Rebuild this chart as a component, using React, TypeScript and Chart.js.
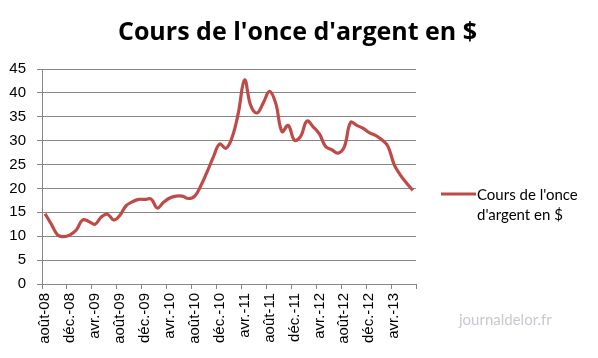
import React, { useEffect, useRef } from "react";
import { Chart, registerables } from "chart.js";

Chart.register(...registerables);

const TITLE = "Cours de l'once d'argent en $";
const SERIES_LINES = ["Cours de l'once", "d'argent en $"];
const WATERMARK = "journaldelor.fr";

const MONTHS = [
  "août-08", "sept.-08", "oct.-08", "nov.-08", "déc.-08",
  "janv.-09", "févr.-09", "mars-09", "avr.-09", "mai-09", "juin-09", "juil.-09", "août-09", "sept.-09", "oct.-09", "nov.-09", "déc.-09",
  "janv.-10", "févr.-10", "mars-10", "avr.-10", "mai-10", "juin-10", "juil.-10", "août-10", "sept.-10", "oct.-10", "nov.-10", "déc.-10",
  "janv.-11", "févr.-11", "mars-11", "avr.-11", "mai-11", "juin-11", "juil.-11", "août-11", "sept.-11", "oct.-11", "nov.-11", "déc.-11",
  "janv.-12", "févr.-12", "mars-12", "avr.-12", "mai-12", "juin-12", "juil.-12", "août-12", "sept.-12", "oct.-12", "nov.-12", "déc.-12",
  "janv.-13", "févr.-13", "mars-13", "avr.-13", "mai-13", "juin-13", "juil.-13",
];

const PRICES = [
  14.7, 12.5, 10.3, 9.9, 10.3,
  11.3, 13.4, 13.1, 12.5, 14.0, 14.6, 13.4, 14.4, 16.4, 17.2, 17.7, 17.7,
  17.8, 15.9, 17.1, 18.0, 18.4, 18.4, 17.9, 18.4, 20.6, 23.5, 26.6, 29.3,
  28.4, 30.7, 35.8, 42.7, 37.3, 35.8, 37.9, 40.3, 37.8, 31.9, 33.2, 30.1,
  30.9, 34.1, 32.9, 31.4, 28.8, 28.1, 27.4, 28.7, 33.8, 33.2, 32.6, 31.7,
  31.1, 30.2, 28.8, 25.0, 22.8, 21.1, 19.6,
];

const Y_MIN = 0;
const Y_MAX = 45;
const Y_STEP = 5;
const LABEL_EVERY = 4;

const LINE_COLOR = "#BE4B48";
const GRID_COLOR = "#868686";

const overlayPlugin = {
  id: "overlay",
  afterDraw(chart: any) {
    const { ctx, chartArea, width } = chart;
    ctx.save();
    // title
    ctx.fillStyle = "#000";
    ctx.font = "bold 25px 'Open Sans'";
    ctx.textAlign = "center";
    ctx.textBaseline = "alphabetic";
    ctx.fillText(TITLE, width / 2 - 1.5, 40);
    // legend
    const x0 = chartArea.right + 25;
    const y0 = chartArea.top + 125;
    ctx.strokeStyle = LINE_COLOR;
    ctx.lineWidth = 3;
    ctx.beginPath();
    ctx.moveTo(x0, y0);
    ctx.lineTo(x0 + 35, y0);
    ctx.stroke();
    ctx.fillStyle = "#000";
    ctx.font = "15px Lato";
    ctx.textBaseline = "middle";
    ctx.textAlign = "left";
    SERIES_LINES.forEach((t, i) => ctx.fillText(t, x0 + 36, y0 + 1 + i * 20));
    // watermark
    ctx.fillStyle = "#c5c9d0";
    ctx.font = "15px Lato";
    ctx.fillText(WATERMARK, chartArea.right + 43, chartArea.bottom + 36);
    ctx.restore();
  },
};

export default function App() {
  const ref = useRef<HTMLCanvasElement>(null);
  useEffect(() => {
    const chart = new Chart(ref.current as HTMLCanvasElement, {
      type: "line",
      data: {
        labels: MONTHS,
        datasets: [
          {
            label: SERIES_LINES.join(" "),
            data: PRICES,
            borderColor: LINE_COLOR,
            backgroundColor: LINE_COLOR,
            borderWidth: 3.2,
            tension: 0.4,
            pointRadius: 0,
            fill: false,
          },
        ],
      },
      options: {
        animation: false,
        responsive: false,
        maintainAspectRatio: false,
        layout: { padding: { left: 0, right: 182, top: 69, bottom: 0 } },
        plugins: {
          legend: { display: false },
          tooltip: { enabled: false },
          title: { display: false },
        },
        scales: {
          x: {
            type: "category",
            offset: true,
            afterFit(scale: any) {
              scale.height = 74;
            },
            grid: {
              offset: true,
              drawOnChartArea: false,
              drawTicks: true,
              tickLength: 5,
              color: (c: any) =>
                c.index === undefined || c.index % LABEL_EVERY === 0 ? GRID_COLOR : "rgba(0,0,0,0)",
            },
            border: { color: GRID_COLOR, width: 1 },
            ticks: {
              autoSkip: false,
              minRotation: 90,
              maxRotation: 90,
              padding: 4,
              color: "#000",
              font: { family: "Liberation Sans", size: 15 },
              callback: (_v: any, i: number) => (i % LABEL_EVERY === 0 ? MONTHS[i] : ""),
            },
          },
          y: {
            min: Y_MIN,
            max: Y_MAX,
            afterFit(scale: any) {
              scale.width = 42;
            },
            grid: { color: GRID_COLOR, tickLength: 5, drawTicks: true },
            border: { color: GRID_COLOR, width: 1 },
            ticks: {
              stepSize: Y_STEP,
              padding: 11,
              color: "#000",
              font: { family: "Liberation Sans", size: 15 },
            },
          },
        },
      },
      plugins: [overlayPlugin],
    });
    return () => chart.destroy();
  }, []);
  return (
    <div style={{ position: "absolute", left: 0, top: 0, width: 598, height: 358, background: "#fff" }}>
      <canvas ref={ref} width={598} height={358} style={{ display: "block" }} />
    </div>
  );
}
